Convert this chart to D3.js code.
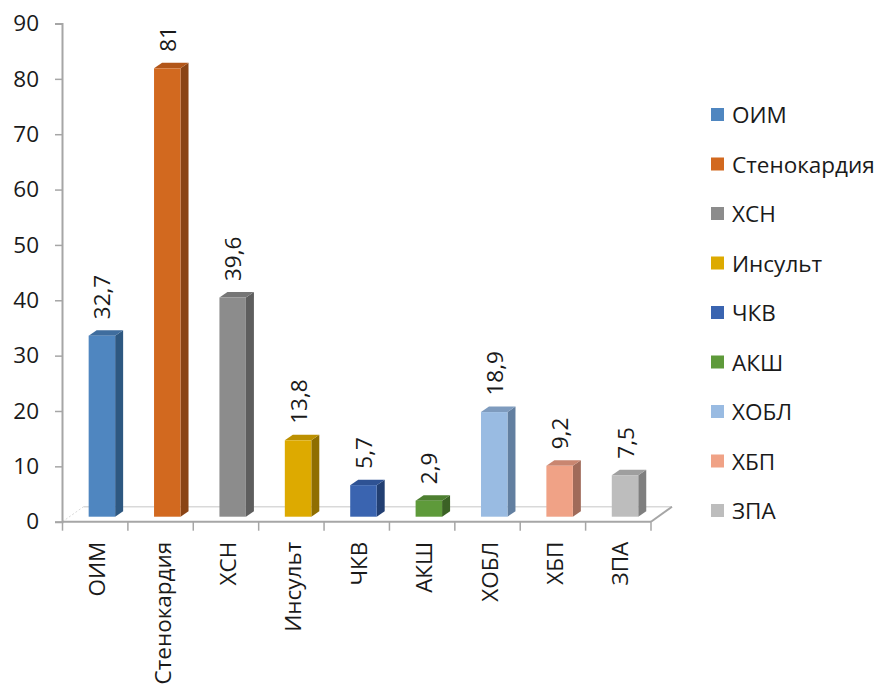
<!DOCTYPE html>
<html>
<head>
<meta charset="utf-8">
<script src="https://cdn.jsdelivr.net/npm/d3@7"></script>
<style>
  html, body { margin: 0; padding: 0; background: #fff; }
  svg { display: block; font-family: "Open Sans", "Liberation Sans", sans-serif; }
</style>
</head>
<body>
<svg id="chart" width="880" height="684"></svg>
<script>
// Categories and their values
const categories = ["ОИМ", "Стенокардия", "ХСН", "Инсульт", "ЧКВ", "АКШ", "ХОБЛ", "ХБП", "ЗПА"];
const values = [32.7, 81, 39.6, 13.8, 5.7, 2.9, 18.9, 9.2, 7.5];
const yTicks = [0, 10, 20, 30, 40, 50, 60, 70, 80, 90];

// Face colours for each bar: front, top, side
const frontColors = ["#4F86C0", "#D2691F", "#8C8C8C", "#DDAA00", "#3A64B0", "#5E9A3A", "#99BBE2", "#F0A286", "#BDBDBD"];
const topColors   = ["#3F6D9E", "#B25619", "#767676", "#BC9000", "#2E5294", "#4D7F30", "#7E9BBE", "#C98670", "#9F9F9F"];
const sideColors  = ["#2E5881", "#8A4415", "#5E5E5E", "#8F6E00", "#223F72", "#3B6225", "#627FA0", "#A06B5A", "#7F7F7F"];

const fmt = v => String(v).replace(".", ",");

const svg = d3.select("#chart");
const fontSize = 22.5;
const textColor = "#1a1a1a";

const y = d3.scaleLinear().domain([0, 90]).range([521.7, 23.5]);
const x = d3.scaleBand().domain(categories).range([62.5, 651]);

// 3D depth of the floor and of the bars
const floorDx = 21, floorDy = -15;
const barLift = 5;          // bars stand in the middle of the floor depth
const barDx = 8, barDy = -5.5;
const barOffset = x.bandwidth() * 0.4;
const barW = x.bandwidth() * 0.405;

// Floor
const floor = svg.append("g");
const y0 = y(0);
const xL = x.range()[0], xR = x.range()[1];
floor.append("line")
  .attr("x1", xL + floorDx).attr("y1", y0 + floorDy)
  .attr("x2", xR + floorDx).attr("y2", y0 + floorDy)
  .attr("stroke", "#D9D9D9").attr("stroke-width", 1.5);
floor.append("line")
  .attr("x1", xL).attr("y1", y0)
  .attr("x2", xL + floorDx).attr("y2", y0 + floorDy)
  .attr("stroke", "#D9D9D9").attr("stroke-width", 1).attr("stroke-dasharray", "2,2");
floor.append("line")
  .attr("x1", xR).attr("y1", y0)
  .attr("x2", xR + floorDx).attr("y2", y0 + floorDy)
  .attr("stroke", "#A6A6A6").attr("stroke-width", 2);

// Bars
const bars = svg.append("g").selectAll("g").data(categories).join("g");
bars.each(function (c, i) {
  const g = d3.select(this);
  const x0 = x(c) + barOffset;
  const x1 = x0 + barW;
  const yb = y(0) - barLift;
  const yt = y(values[i]) - barLift;
  g.append("path")
    .attr("d", `M${x1},${yt}L${x1 + barDx},${yt + barDy}L${x1 + barDx},${yb + barDy}L${x1},${yb}Z`)
    .attr("fill", sideColors[i]);
  g.append("path")
    .attr("d", `M${x0},${yt}L${x0 + barDx},${yt + barDy}L${x1 + barDx},${yt + barDy}L${x1},${yt}Z`)
    .attr("fill", topColors[i]);
  g.append("rect")
    .attr("x", x0).attr("y", yt).attr("width", barW).attr("height", yb - yt)
    .attr("fill", frontColors[i]);
  // value label, rotated
  const cx = x0 + barW / 2 + 8.5;
  const ty = yt + barDy - 11;
  g.append("text")
    .attr("transform", `translate(${cx},${ty}) rotate(-90)`)
    .attr("font-size", fontSize).attr("fill", textColor)
    .text(fmt(values[i]));
});

// Y axis
const yAxis = d3.axisLeft(y).tickValues(yTicks).tickSize(7).tickPadding(16).tickFormat(d3.format("d"));
const gy = svg.append("g").attr("transform", "translate(62,0)").call(yAxis);
gy.select(".domain").attr("stroke", "#A6A6A6").attr("stroke-width", 2);
gy.selectAll(".tick line").attr("stroke", "#A6A6A6").attr("stroke-width", 1.5);
gy.selectAll(".tick text").attr("font-size", fontSize).attr("fill", textColor)
  .attr("font-family", "'Open Sans', sans-serif");

// X axis (front edge of the floor) with category boundary ticks
const gx = svg.append("g");
gx.append("line")
  .attr("x1", 62).attr("y1", y0).attr("x2", xR).attr("y2", y0)
  .attr("stroke", "#A6A6A6").attr("stroke-width", 2);
const bounds = categories.map(c => x(c)).concat([xR]);
gx.selectAll("line.tk").data(bounds).join("line").attr("class", "tk")
  .attr("x1", d => d).attr("x2", d => d)
  .attr("y1", y0).attr("y2", y0 + 9)
  .attr("stroke", "#A6A6A6").attr("stroke-width", 1.5);
gx.selectAll("text").data(categories).join("text")
  .attr("transform", c => `translate(${x(c) + x.bandwidth() / 2 + 1.5},${y0 + 20}) rotate(-90)`)
  .attr("text-anchor", "end").attr("dominant-baseline", "central")
  .attr("font-size", fontSize).attr("fill", textColor)
  .text(c => c);

// Legend
const legend = svg.append("g");
const rows = legend.selectAll("g").data(categories).join("g")
  .attr("transform", (c, i) => `translate(711,${114.5 + i * 49.5})`);
rows.append("rect")
  .attr("x", 0).attr("y", -6.5).attr("width", 13).attr("height", 13)
  .attr("fill", (c, i) => frontColors[i]);
rows.append("text")
  .attr("x", 21).attr("y", 0).attr("dominant-baseline", "central")
  .attr("font-size", fontSize).attr("fill", textColor)
  .text(c => c);
</script>
</body>
</html>
